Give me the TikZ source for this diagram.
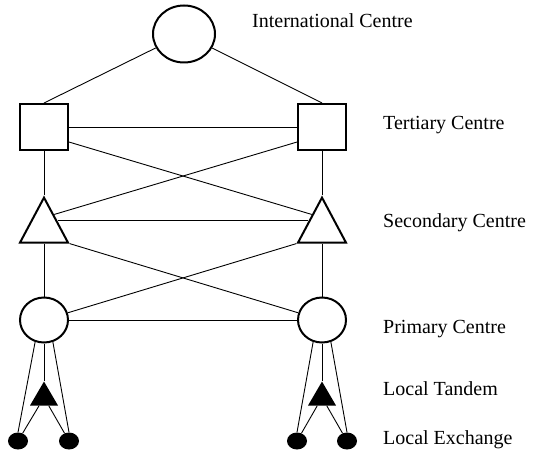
\documentclass[tikz,border=0pt]{standalone}
\usepackage{fontspec}
\setmainfont{Liberation Serif}
\usetikzlibrary{shapes.geometric, positioning, calc}

\begin{document}
\begin{tikzpicture}[
  x=1pt, y=-1pt,
  font=\rmfamily\fontsize{20}{24}\selectfont,
  link/.style={line width=0.9pt},
  centre/.style={
    draw, ellipse, line width=2pt, inner sep=0pt,
    minimum width=48pt, minimum height=45pt
  },
  intl/.style={centre, minimum width=62pt, minimum height=57pt},
  tertiary/.style={
    draw, rectangle, line width=2pt, inner sep=0pt,
    minimum width=48pt, minimum height=46pt
  },
  secondary/.style={
    draw, isosceles triangle, isosceles triangle stretches,
    shape border rotate=90, line width=2pt, inner sep=0pt,
    minimum width=48pt, minimum height=45pt, anchor=apex
  },
  tandem/.style={
    fill, isosceles triangle, isosceles triangle stretches,
    shape border rotate=90, inner sep=0pt,
    minimum width=28pt, minimum height=24pt, anchor=apex
  },
  exchange/.style={fill, ellipse, inner sep=0pt, minimum width=20pt, minimum height=17pt},
  tag/.style={anchor=base west, inner sep=0pt}
]
\useasboundingbox (0,0) rectangle (534,454);

% centres
\node[intl] (ic) at (184,34) {};
\node[tertiary] (tertL) at (44,127) {};
\node[tertiary] (tertR) at (322,127) {};
\node[secondary] (secL) at (44,195) {};
\node[secondary] (secR) at (322,195) {};
\node[centre] (primL) at (44,320) {};
\node[centre] (primR) at (322,320) {};
\node[tandem] (tanL) at (44,381) {};
\node[tandem] (tanR) at (322,381) {};
\node[exchange] (exL1) at (18,441) {};
\node[exchange] (exL2) at (69,441) {};
\node[exchange] (exR1) at (297,441) {};
\node[exchange] (exR2) at (347,441) {};

% labels
\node[tag] (lblIntl) at (252,28) {International Centre};
\node[tag] (lblTert) at (383,130) {Tertiary Centre};
\node[tag] (lblSec) at (383,227) {Secondary Centre};
\node[tag] (lblPrim) at (383,333) {Primary Centre};
\node[tag] (lblTan) at (383,395) {Local Tandem};
\node[tag] (lblExc) at (383,444) {Local Exchange};

% links
\draw[link] (ic) -- (tertL.north);
\draw[link] (ic) -- (tertR.north);
\draw[link] (tertL) -- (tertR);
\draw[link] (tertL.-31) -- ($(secR.apex)!0.4!(secR.left corner)$);
\draw[link] (tertR.-149) -- ($(secL.apex)!0.4!(secL.right corner)$);
\draw[link] (tertL.south) -- (secL.apex);
\draw[link] (tertR.south) -- (secR.apex);
\draw[link] ($(secL.apex)!0.53!(secL.right corner)$) -- ($(secR.apex)!0.53!(secR.left corner)$);
\draw[link] (secL.right corner) -- (primR);
\draw[link] (secR.left corner) -- (primL);
\draw[link] (secL.lower side) -- (primL.north);
\draw[link] (secR.lower side) -- (primR.north);
\draw[link] (primL) -- (primR);
\foreach \s in {L,R} {
  \draw[link] (prim\s.-112) -- (ex\s1.north);
  \draw[link] (prim\s.-68) -- (ex\s2.north);
  \draw[link] (prim\s.south) -- (tan\s.apex);
  \draw[link] (tan\s) -- (ex\s1);
  \draw[link] (tan\s) -- (ex\s2);
}
\end{tikzpicture}
\end{document}
